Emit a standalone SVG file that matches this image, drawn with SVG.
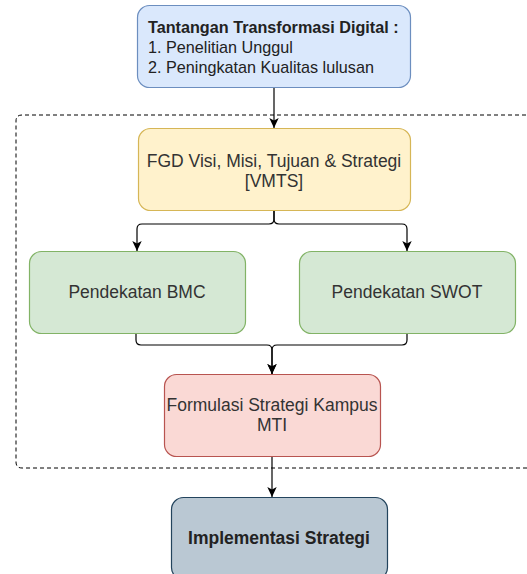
<svg xmlns="http://www.w3.org/2000/svg" width="527" height="574" viewBox="0 0 527 574">
<style>
.t{font-family:"Liberation Sans",Arial,sans-serif;font-size:17.5px;fill:#333333;text-anchor:middle}
.b{font-weight:bold}
.c{fill:none;stroke:#000;stroke-width:1.2}
</style>
<defs>
<marker id="ah" markerUnits="userSpaceOnUse" markerWidth="10" markerHeight="11" refX="10" refY="5.5" orient="auto">
<path d="M0,0.8 L10,5.5 L0,10.2 L2.5,5.5 Z" fill="#000"/>
</marker>
</defs>
<rect width="527" height="574" fill="#ffffff"/>
<g id="container">
<path d="M540,115 H22 Q16,115 16,121 V462 Q16,468 22,468 H540" fill="none" stroke="#000" stroke-width="1" stroke-dasharray="4 3"/>
</g>
<g id="connectors">
<path class="c" d="M274,87 V128" marker-end="url(#ah)"/>
<path class="c" d="M274,210 V219 Q274,224 269,224 H142 Q137,224 137,229 V251" marker-end="url(#ah)"/>
<path class="c" d="M274,210 V219 Q274,224 279,224 H402 Q407,224 407,229 V251" marker-end="url(#ah)"/>
<path class="c" d="M136,333 V340 Q136,345 141,345 H267 Q272,345 272,350 V374" marker-end="url(#ah)"/>
<path class="c" d="M407,333 V340 Q407,345 402,345 H277 Q272,345 272,350 V374" marker-end="url(#ah)"/>
<path class="c" d="M272,456 V497" marker-end="url(#ah)"/>
</g>
<g id="tantangan">
<rect x="137.5" y="5.5" width="273" height="82" rx="12" fill="#dae8fc" stroke="#6c8ebf" stroke-width="1.2"/>
<text class="t" style="font-size:16.2px;text-anchor:start;fill:#222" x="148" y="33"><tspan class="b">Tantangan Transformasi Digital :</tspan><tspan x="148" y="53">1. Penelitian Unggul</tspan><tspan x="148" y="72.5">2. Peningkatan Kualitas lulusan</tspan></text>
</g>
<g id="fgd">
<rect x="138.5" y="128.5" width="272" height="82" rx="12" fill="#fff2cc" stroke="#d6b656" stroke-width="1.2"/>
<text class="t" x="274" y="167">FGD Visi, Misi, Tujuan &amp; Strategi</text>
<text class="t" x="274" y="187">[VMTS]</text>
</g>
<g id="bmc">
<rect x="29.5" y="251.5" width="216" height="82" rx="12" fill="#d5e8d4" stroke="#82b366" stroke-width="1.2"/>
<text class="t" x="137" y="298">Pendekatan BMC</text>
</g>
<g id="swot">
<rect x="299.5" y="251.5" width="216" height="82" rx="12" fill="#d5e8d4" stroke="#82b366" stroke-width="1.2"/>
<text class="t" x="407" y="298">Pendekatan SWOT</text>
</g>
<g id="formulasi">
<rect x="164.5" y="374.5" width="216" height="82" rx="12" fill="#fad9d5" stroke="#b85450" stroke-width="1.2"/>
<text class="t" x="272" y="411">Formulasi Strategi Kampus</text>
<text class="t" x="272" y="431">MTI</text>
</g>
<g id="implementasi">
<rect x="171.5" y="497.5" width="216" height="82" rx="12" fill="#bac8d3" stroke="#23445d" stroke-width="1.2"/>
<text class="t b" x="279" y="544" style="fill:#222">Implementasi Strategi</text>
</g>
</svg>
